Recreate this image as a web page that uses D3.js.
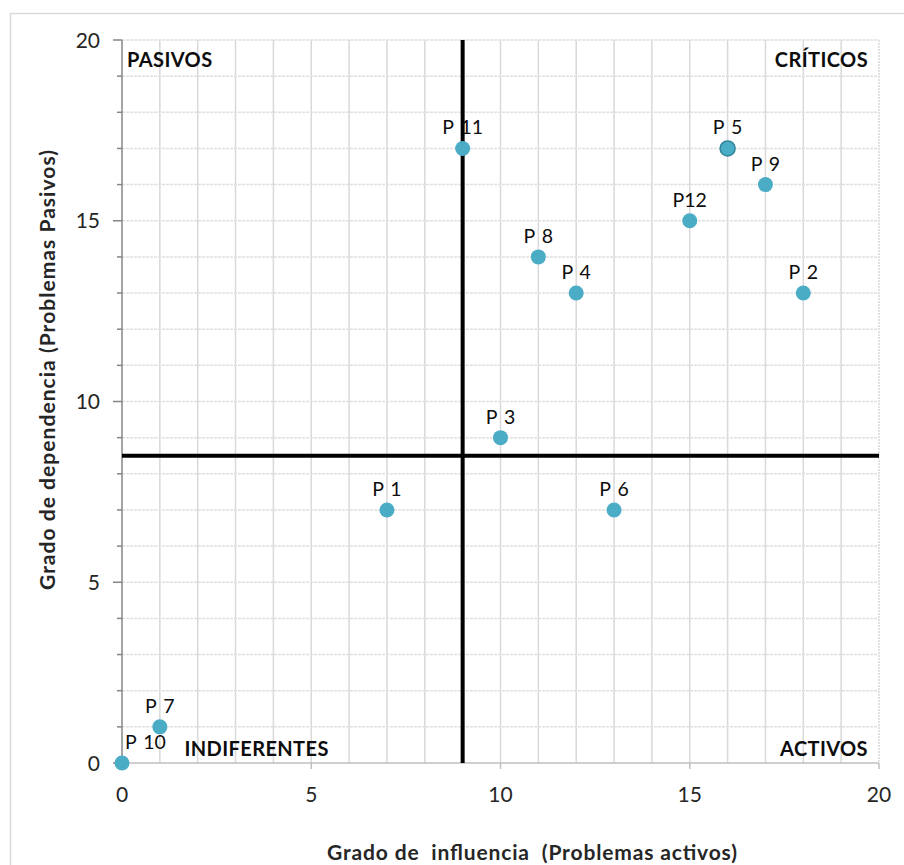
<!DOCTYPE html>
<html>
<head>
<meta charset="utf-8">
<script src="https://cdn.jsdelivr.net/npm/d3@7"></script>
<style>
  body { margin: 0; background: #fff; }
  text { font-family: Lato, "Open Sans", sans-serif; }
</style>
</head>
<body>
<svg id="chart" width="904" height="865"></svg>
<script>
// problem names and their (influencia, dependencia) grades
var names = ["P 1", "P 2", "P 3", "P 4", "P 5", "P 6", "P 7", "P 8", "P 9", "P 10", "P 11", "P12"];
var influencia = [7, 18, 10, 12, 16, 13, 1, 11, 17, 0, 9, 15];
var dependencia = [7, 13, 9, 13, 17, 7, 1, 14, 16, 0, 17, 15];
var ticks = [0, 5, 10, 15, 20];
var splitX = 9, splitY = 8.5;
var quadrants = ["PASIVOS", "CRÍTICOS", "INDIFERENTES", "ACTIVOS"];

var svg = d3.select("#chart");

var x = d3.scaleLinear().domain([0, 20]).range([122, 879]);
var y = d3.scaleLinear().domain([0, 20]).range([763, 40]);

// chart frame
svg.append("rect")
    .attr("x", 10.5).attr("y", 13.5)
    .attr("width", 1000).attr("height", 1000)
    .attr("fill", "none")
    .attr("stroke", "#d9d9d9")
    .attr("stroke-width", 1.5);

var units = d3.range(1, 21);

// vertical gridlines (solid)
svg.append("g").selectAll("line")
    .data(units)
    .join("line")
    .attr("x1", d => x(d)).attr("x2", d => x(d))
    .attr("y1", y(20)).attr("y2", y(0))
    .attr("stroke", "#d9d9d9")
    .attr("stroke-width", 1.5)
    .attr("stroke-dasharray", d => d == 20 ? "2,1" : null);

// horizontal gridlines (dashed)
svg.append("g").selectAll("line")
    .data(units)
    .join("line")
    .attr("x1", x(0)).attr("x2", x(20))
    .attr("y1", d => y(d)).attr("y2", d => y(d))
    .attr("stroke", "#e0e0e0")
    .attr("stroke-width", 1.5)
    .attr("stroke-dasharray", "3,1");

// y axis line + ticks
var axisCol = "#868686";
svg.append("line")
    .attr("x1", x(0)).attr("x2", x(0))
    .attr("y1", y(20)).attr("y2", y(0))
    .attr("stroke", axisCol).attr("stroke-width", 1.5);
svg.append("g").selectAll("line")
    .data(d3.range(0, 21))
    .join("line")
    .attr("x1", d => d % 5 == 0 ? x(0) - 9 : x(0) - 5)
    .attr("x2", x(0))
    .attr("y1", d => y(d)).attr("y2", d => y(d))
    .attr("stroke", axisCol).attr("stroke-width", 1.5);

// x axis line + ticks
svg.append("line")
    .attr("x1", x(0)).attr("x2", x(20))
    .attr("y1", y(0)).attr("y2", y(0))
    .attr("stroke", "#bfbfbf").attr("stroke-width", 1.5);
svg.append("g").selectAll("line")
    .data(ticks)
    .join("line")
    .attr("x1", d => x(d)).attr("x2", d => x(d))
    .attr("y1", y(0)).attr("y2", y(0) + 6)
    .attr("stroke", "#bfbfbf").attr("stroke-width", 1.5);

// tick labels
svg.append("g").selectAll("text")
    .data(ticks)
    .join("text")
    .attr("x", 100)
    .attr("y", d => y(d) + 7.5)
    .attr("text-anchor", "end")
    .attr("font-size", 21)
    .attr("fill", "#262626")
    .text(d => d);
svg.append("g").selectAll("text")
    .data(ticks)
    .join("text")
    .attr("x", d => x(d))
    .attr("y", 802)
    .attr("text-anchor", "middle")
    .attr("font-size", 21)
    .attr("fill", "#262626")
    .text(d => d);

// axis titles
svg.append("text")
    .attr("transform", "translate(55,370) rotate(-90)")
    .attr("text-anchor", "middle")
    .attr("font-size", 21)
    .attr("font-weight", "bold")
    .attr("fill", "#262626")
    .attr("textLength", 440)
    .text("Grado de dependencia (Problemas Pasivos)");
svg.append("text")
    .attr("x", 532).attr("y", 860)
    .attr("text-anchor", "middle")
    .attr("font-size", 21)
    .attr("font-weight", "bold")
    .attr("fill", "#262626")
    .attr("xml:space", "preserve")
    .attr("textLength", 410)
    .text("Grado de  influencia  (Problemas activos)");

// quadrant divider lines
svg.append("line")
    .attr("x1", x(splitX)).attr("x2", x(splitX))
    .attr("y1", y(20)).attr("y2", y(0))
    .attr("stroke", "#000").attr("stroke-width", 4);
svg.append("line")
    .attr("x1", x(0)).attr("x2", x(20))
    .attr("y1", y(splitY)).attr("y2", y(splitY))
    .attr("stroke", "#000").attr("stroke-width", 4);

// quadrant names
var qpos = [
  {x: x(0) + 5, y: y(20) + 27, a: "start"},
  {x: x(20) - 11, y: y(20) + 27, a: "end"},
  {x: x(1.65), y: y(0) - 7, a: "start"},
  {x: x(20) - 11, y: y(0) - 7, a: "end"}
];
svg.append("g").selectAll("text")
    .data(quadrants)
    .join("text")
    .attr("x", (d, i) => qpos[i].x)
    .attr("y", (d, i) => qpos[i].y)
    .attr("text-anchor", (d, i) => qpos[i].a)
    .attr("font-size", 20)
    .attr("font-weight", "bold")
    .attr("letter-spacing", 0.4)
    .attr("fill", "#0d0d0d")
    .text(d => d);

// points
var pts = names.map((n, i) => ({name: n, x: influencia[i], y: dependencia[i]}));
svg.append("g").selectAll("circle")
    .data(pts)
    .join("circle")
    .attr("cx", d => x(d.x))
    .attr("cy", d => y(d.y))
    .attr("r", 7.5)
    .attr("fill", "#4bacc6")
    .attr("stroke", d => d.name == "P 5" ? "#31849b" : "none")
    .attr("stroke-width", 1.5);

// point labels, kept inside the plot on the left
var labels = svg.append("g").selectAll("text")
    .data(pts)
    .join("text")
    .attr("y", d => y(d.y) - 14)
    .attr("font-size", 19.5)
    .attr("word-spacing", 2)
    .attr("fill", "#0d0d0d")
    .attr("xml:space", "preserve")
    .text(d => d.name);
labels.each(function(d) {
  var w = this.getComputedTextLength();
  var left = Math.max(x(d.x) - w / 2, x(0) + 3);
  d3.select(this).attr("x", left);
});
</script>
</body>
</html>
